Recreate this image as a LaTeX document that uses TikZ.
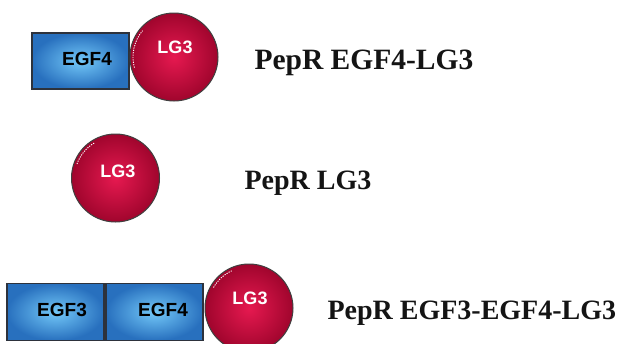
\documentclass[tikz,border=0pt]{standalone}
\usepackage{fontspec}
\setmainfont{Liberation Serif}
\newfontfamily\arialfont{Liberation Sans}
\definecolor{ballin}{RGB}{230,25,80}
\definecolor{ballout}{RGB}{160,5,45}
\definecolor{boxin}{RGB}{115,200,248}
\definecolor{boxout}{RGB}{40,112,190}
\definecolor{boxedge}{RGB}{45,50,60}
\definecolor{labtext}{RGB}{20,20,20}
\tikzset{
  domainbox/.style={rectangle, draw=boxedge, line width=1.4pt, inner sep=0pt,
    minimum width=97pt, minimum height=57pt, inner color=boxin, outer color=boxout},
  lgball/.style={circle, draw=black!75, line width=1pt, inner sep=0pt,
    minimum size=88pt, inner color=ballin, outer color=ballout},
  egftext/.style={font=\arialfont\bfseries\fontsize{19}{19}\selectfont, text=black},
  lgtext/.style={font=\arialfont\bfseries\fontsize{18}{18}\selectfont, text=white},
  caption/.style={font=\bfseries\fontsize{28}{28}\selectfont, text=labtext, anchor=west},
  shine/.style={white, line width=0.9pt, dash pattern=on 1.2pt off 1.2pt}
}
\begin{document}
\begin{tikzpicture}[x=1pt,y=-1pt]
\useasboundingbox[fill=white] (0,0) rectangle (621,343);
% top construct
\node[domainbox, minimum height=56pt] (egfA) at (80.5,61) {};
\node[egftext] (egfAt) at (87,59) {EGF4};
\node[lgball] (lgA) at (174,57) {};
\node[lgtext] (lgAt) at (175,47) {LG3};
\draw[shine] (lgA.center) ++(-195:41) arc (-195:-140:41);
\node[caption, font=\bfseries\fontsize{29.5}{29.5}\selectfont] (capA) at (251,63) {PepR EGF4-LG3};
% middle construct
\node[lgball] (lgB) at (115.5,178) {};
\node[lgtext] (lgBt) at (118,171) {LG3};
\draw[shine] (lgB.center) ++(-160:41) arc (-160:-120:41);
\node[caption] (capB) at (241,183) {PepR LG3};
% bottom construct
\node[domainbox] (egfB) at (55.5,312) {};
\node[domainbox] (egfC) at (154.5,312) {};
\node[egftext] (egfBt) at (62,310) {EGF3};
\node[egftext] (egfCt) at (163,310) {EGF4};
\node[lgball] (lgC) at (249,308) {};
\node[lgtext] (lgCt) at (250,298) {LG3};
\draw[shine] (lgC.center) ++(-150:41) arc (-150:-115:41);
\node[caption] (capC) at (324,313) {PepR EGF3-EGF4-LG3};
\end{tikzpicture}
\end{document}
